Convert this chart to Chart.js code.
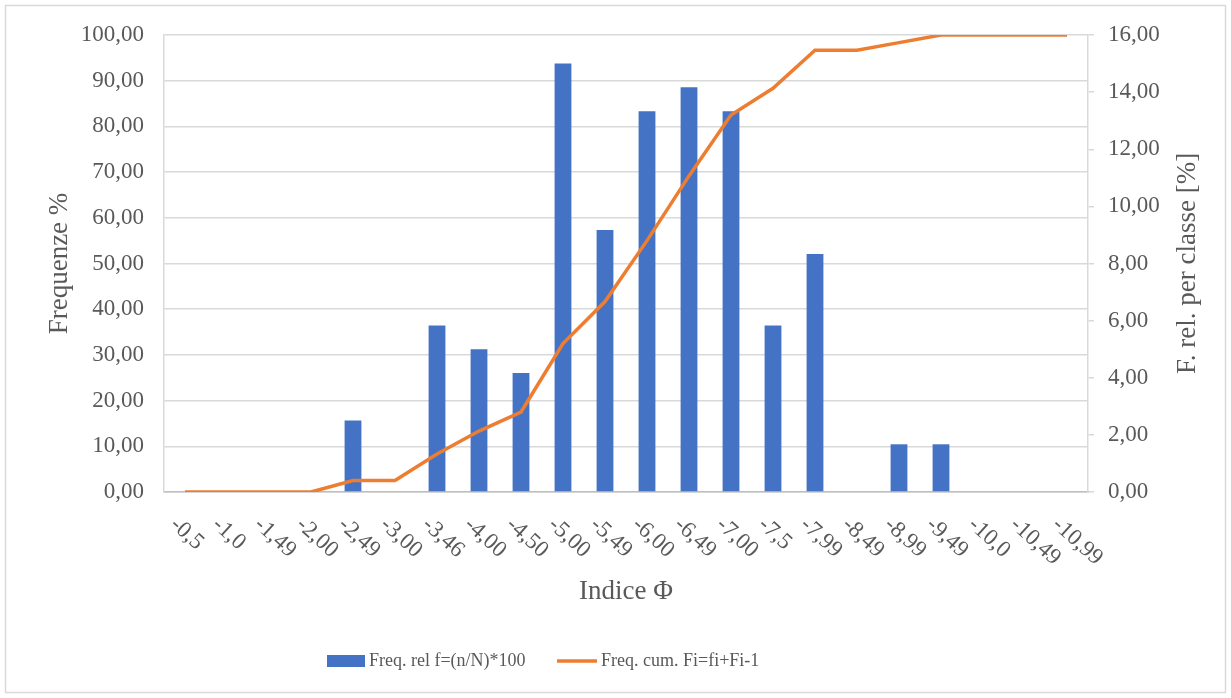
<!DOCTYPE html>
<html>
<head>
<meta charset="utf-8">
<script src="https://cdn.jsdelivr.net/npm/chart.js@4/dist/chart.umd.min.js"></script>
<style>
    html, body { margin: 0; padding: 0; background: #ffffff; }
    #wrap { width: 1231px; height: 698px; }
</style>
</head>
<body>
<div id="wrap"><canvas id="grafico"></canvas></div>
<script>
// dati
const categorie = ["-0,5", "-1,0", "-1,49", "-2,00", "-2,49", "-3,00", "-3,46", "-4,00", "-4,50", "-5,00", "-5,49",
    "-6,00", "-6,49", "-7,00", "-7,5", "-7,99", "-8,49", "-8,99", "-9,49", "-10,0", "-10,49", "-10,99"];
const freqRel = [0, 0, 0, 0, 2.50, 0, 5.83, 5.00, 4.17, 15.00, 9.17, 13.33, 14.17, 13.33, 5.83, 8.33, 0, 1.67, 1.67, 0, 0, 0];
const freqCum = [0, 0, 0, 0, 2.50, 2.50, 8.33, 13.33, 17.50, 32.50, 41.67, 55.00, 69.17, 82.50, 88.33, 96.67, 96.67, 98.33, 100, 100, 100, 100];
const labelRel = "Freq. rel f=(n/N)*100";
const labelCum = "Freq. cum. Fi=fi+Fi-1";

const FONT = "'Liberation Serif', 'Times New Roman', serif";
const GRIGIO = "#595959";
const BLU = "#4472C4";
const ARANCIO = "#ED7D31";

function virgola(v) {
    return Number(v).toFixed(2).replace(".", ",");
}

// etichette asse x ruotate, titolo asse destro, legenda e cornice
const extraPlugin = {
    id: "extra",
    afterDraw(chart) {
        const ctx = chart.ctx;
        const x = chart.scales.x;
        const area = chart.chartArea;

        ctx.save();
        ctx.fillStyle = GRIGIO;
        ctx.font = "23px " + FONT;
        ctx.textAlign = "left";
        ctx.textBaseline = "top";
        categorie.forEach((c, i) => {
            const px = x.getPixelForValue(i);
            ctx.save();
            ctx.translate(px - 4, area.bottom + 21);
            ctx.rotate(42 * Math.PI / 180);
            ctx.fillText(c, 0, 0);
            ctx.restore();
        });

        // titolo asse destro (letto dal basso verso l'alto)
        ctx.save();
        ctx.font = "27px " + FONT;
        ctx.textAlign = "center";
        ctx.textBaseline = "middle";
        ctx.translate(1188, (area.top + area.bottom) / 2);
        ctx.rotate(-Math.PI / 2);
        ctx.fillText("F. rel. per classe [%]", 0, 0);
        ctx.restore();

        // legenda
        const ly = 661;
        ctx.font = "18px " + FONT;
        ctx.textBaseline = "middle";
        ctx.fillStyle = BLU;
        ctx.fillRect(327, ly - 6, 38, 12);
        ctx.fillStyle = GRIGIO;
        ctx.fillText(labelRel, 369, ly);
        ctx.strokeStyle = ARANCIO;
        ctx.lineWidth = 3.5;
        ctx.beginPath();
        ctx.moveTo(557, ly);
        ctx.lineTo(597, ly);
        ctx.stroke();
        ctx.fillText(labelCum, 601, ly);

        // cornice esterna
        ctx.strokeStyle = "#d9d9d9";
        ctx.lineWidth = 1.5;
        ctx.strokeRect(5.5, 5.5, 1220, 687);
        ctx.restore();
    }
};

const ctx = document.getElementById("grafico").getContext("2d");

new Chart(ctx, {
    type: "bar",
    data: {
        labels: categorie,
        datasets: [
            {
                type: "line",
                label: labelCum,
                data: freqCum,
                yAxisID: "y",
                borderColor: ARANCIO,
                backgroundColor: ARANCIO,
                borderWidth: 3.5,
                pointRadius: 0,
                tension: 0,
                order: 0
            },
            {
                type: "bar",
                label: labelRel,
                data: freqRel,
                yAxisID: "y1",
                backgroundColor: BLU,
                borderWidth: 0,
                categoryPercentage: 1.0,
                barPercentage: 0.4,
                order: 1
            }
        ]
    },
    options: {
        responsive: true,
        maintainAspectRatio: false,
        animation: false,
        layout: {
            padding: { left: 10, right: 10, top: 35, bottom: 80 }
        },
        plugins: {
            legend: { display: false },
            tooltip: { enabled: false }
        },
        scales: {
            x: {
                offset: true,
                afterFit(scale) { scale.height = 126; },
                grid: { display: false, drawTicks: false },
                border: { display: true, color: "#bfbfbf", width: 1.5 },
                ticks: { display: false },
                title: {
                    display: true,
                    text: "Indice Φ",
                    color: GRIGIO,
                    font: { family: FONT, size: 27 },
                    padding: { top: 0, bottom: 10 }
                }
            },
            y: {
                position: "left",
                min: 0,
                max: 100,
                afterFit(scale) { scale.width = 154; },
                ticks: {
                    stepSize: 10,
                    padding: 20,
                    color: GRIGIO,
                    font: { family: FONT, size: 23 },
                    callback: v => virgola(v)
                },
                grid: { color: "#d9d9d9", lineWidth: 1.5, drawTicks: false },
                border: { display: true, color: "#d9d9d9", width: 1.5 },
                title: {
                    display: true,
                    text: "Frequenze %",
                    color: GRIGIO,
                    font: { family: FONT, size: 27 },
                    padding: { top: 34, bottom: 0 }
                }
            },
            y1: {
                position: "right",
                min: 0,
                max: 16,
                afterFit(scale) { scale.width = 133; },
                ticks: {
                    stepSize: 2,
                    padding: 14,
                    color: GRIGIO,
                    font: { family: FONT, size: 23 },
                    callback: v => virgola(v)
                },
                grid: { drawOnChartArea: false, color: "#d9d9d9", lineWidth: 1.5, tickLength: 6 },
                border: { display: true, color: "#d9d9d9", width: 1.5 }
            }
        }
    },
    plugins: [extraPlugin]
});
</script>
</body>
</html>
